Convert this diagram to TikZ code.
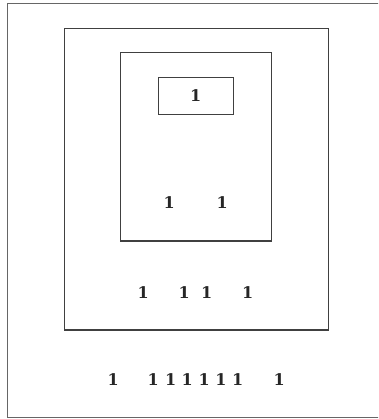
\documentclass[tikz,border=0pt]{standalone}
\usepackage{fontspec}
\setmainfont{DejaVu Serif}
\begin{document}
\begin{tikzpicture}[x=1pt,y=-1pt,
  frame/.style={draw=gray!80!black,line width=1.2pt},
  box/.style={draw=black!75,line width=1.1pt},
  num/.style={inner sep=0pt,font=\fontsize{16}{16}\selectfont\bfseries,text=black!85}]
\useasboundingbox (0,0) rectangle (378,419);
\begin{scope}
\clip (0,0) rectangle (378,419);
\draw[frame] (390,3.8) -- (7.2,3.8) -- (7.2,417.8) -- (390,417.8);
\end{scope}
\draw[box] (64.3,28.7) rectangle (328.3,330);
\draw[box] (120.7,52.7) rectangle (271.7,241);
\draw[box] (158.3,77.7) rectangle (233.3,114.7);
\node[num] (a) at (195.7,95.7) {1};
\node[num] (b1) at (169.3,202.7) {1};
\node[num] (b2) at (222.3,202.7) {1};
\node[num] (c1) at (143.3,292.7) {1};
\node[num] (c2) at (184.3,292.7) {1};
\node[num] (c3) at (206.7,292.7) {1};
\node[num] (c4) at (247.7,292.7) {1};
\foreach \x [count=\i] in {113.3,153.3,170.7,187.3,204.3,221,237.7,279.3}
  \node[num] (d\i) at (\x,380) {1};
\end{tikzpicture}
\end{document}
